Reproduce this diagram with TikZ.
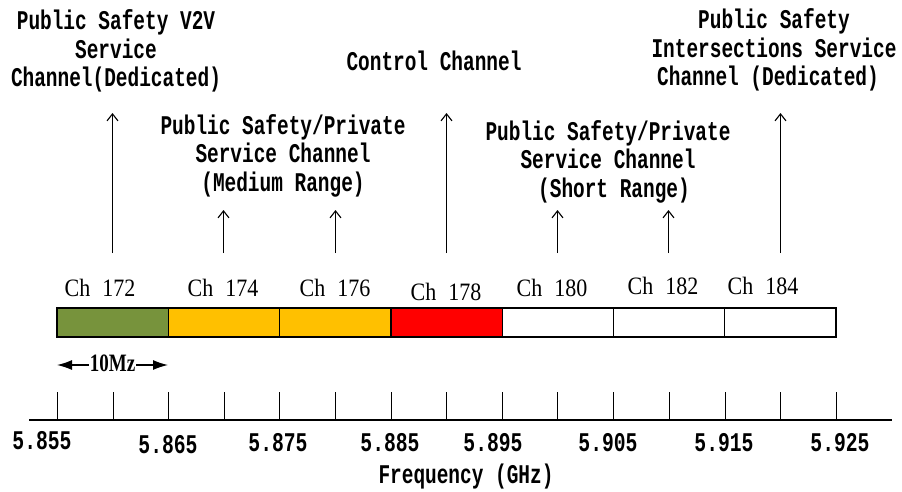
\documentclass[tikz,border=0pt]{standalone}
\usepackage{fontspec}
\usetikzlibrary{arrows.meta}
\newfontfamily\titlefont[FakeStretch=0.72]{Liberation Mono}
\newfontfamily\tickfont[FakeStretch=0.73]{Liberation Mono}
\newfontfamily\chfont[FakeStretch=0.88]{Liberation Serif}
\newfontfamily\spanfont[FakeStretch=0.76]{Liberation Serif}
\definecolor{chgreen}{HTML}{77933C}
\definecolor{chyellow}{HTML}{FFC000}
\definecolor{chred}{HTML}{FF0000}
\begin{document}
\begin{tikzpicture}[x=1pt,y=-1pt,
  title/.style={font=\titlefont\bfseries\fontsize{27}{28.5}\selectfont, align=center, inner sep=0pt},
  chlab/.style={font=\chfont\fontsize{25}{27}\selectfont, inner sep=0pt},
  ticklab/.style={font=\tickfont\bfseries\fontsize{27}{28}\selectfont, inner sep=0pt},
  seg/.style={draw, line width=1.3pt, minimum width=111.3pt, minimum height=29pt, inner sep=0pt, outer sep=0pt},
  ptr/.style={line width=1.1pt, -{Straight Barb[length=7pt,width=11pt,line width=1.1pt]}},
  span/.style={line width=1.3pt, {Latex[length=15pt,width=10pt]}-{Latex[length=15pt,width=10pt]}}]
\useasboundingbox (0,0) rectangle (902,491);

% channel band
\node[seg, fill=chgreen]  (s172) at (112.65,322.5) {};
\node[seg, fill=chyellow] (s174) at (223.95,322.5) {};
\node[seg, fill=chyellow] (s176) at (335.25,322.5) {};
\node[seg, fill=chred]    (s178) at (446.55,322.5) {};
\node[seg, fill=white]    (s180) at (557.85,322.5) {};
\node[seg, fill=white]    (s182) at (669.15,322.5) {};
\node[seg, fill=white]    (s184) at (780.45,322.5) {};

% channel numbers
\node[chlab] (c172) at (100,288) {Ch\hspace{12pt}172};
\node[chlab] (c174) at (223,288) {Ch\hspace{12pt}174};
\node[chlab] (c176) at (335,288) {Ch\hspace{12pt}176};
\node[chlab] (c178) at (446,292) {Ch\hspace{12pt}178};
\node[chlab] (c180) at (552,288) {Ch\hspace{12pt}180};
\node[chlab] (c182) at (663,286) {Ch\hspace{12pt}182};
\node[chlab] (c184) at (763,286) {Ch\hspace{12pt}184};

% pointers to the channels
\foreach \n/\x/\t in {172/112.5/113, 174/223.5/210, 176/335.5/210, 178/446.5/113,
                      180/557.5/210, 182/668.5/210, 184/780.5/113} {
  \coordinate (b\n) at (\x,253);
  \coordinate (t\n) at (\x,\t);
  \draw[ptr] (b\n) -- (t\n);
}

% channel descriptions
\node[title] (d172) at (116,51) {Public Safety V2V\\Service\hspace*{22pt}\\Channel(Dedicated)};
\node[title] (d174) at (283,155.5) {Public Safety/Private\\Service Channel\\(Medium Range)};
\node[title] (d178) at (434,61) {Control Channel};
\node[title] (d180) at (608,161.5) {Public Safety/Private\\Service Channel\\\hspace*{12pt}(Short Range)};
\node[title] (d184) at (774,50) {Public Safety\\Intersections Service\\Channel (Dedicated)\hspace*{12pt}};

% channel width
\coordinate (mL) at (57,365);
\coordinate (mR) at (168,365);
\draw[span] (mL) -- (mR);
\node[fill=white, inner xsep=1pt, inner ysep=2pt, font=\spanfont\bfseries\fontsize{25}{27}\selectfont] (mz) at (112.5,363.5) {10Mz};

% frequency axis
\coordinate (axL) at (29,420);
\coordinate (axR) at (892,420);
\draw[line width=1.3pt] (axL) -- (axR);
\foreach \x in {57,113,168,224,279,335,391,446,502,557,613,669,725,780,836}
  \draw[line width=1.1pt] (\x+0.5,392) -- (\x+0.5,420);

\node[ticklab] (f855) at (42,440.5) {5.855};
\node[ticklab] (f865) at (168,444.5) {5.865};
\node[ticklab] (f875) at (278,442.5) {5.875};
\node[ticklab] (f885) at (390,442.5) {5.885};
\node[ticklab] (f895) at (493,442.5) {5.895};
\node[ticklab] (f905) at (608,442.5) {5.905};
\node[ticklab] (f915) at (724,442.5) {5.915};
\node[ticklab] (f925) at (840,442.5) {5.925};

\node[title] (xlab) at (466,476.5) {Frequency (GHz)};
\end{tikzpicture}
\end{document}
